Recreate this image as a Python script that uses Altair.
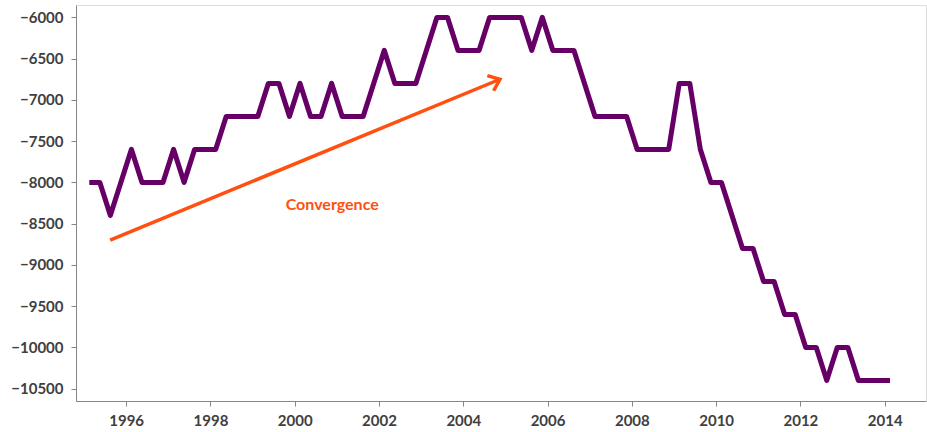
import altair as alt
import pandas as pd

# Quarterly series, first observation in Q1 1995
start_year = 1995.125
values = [
    -8000, -8000, -8400, -8000, -7600, -8000, -8000, -8000, -7600, -8000,
    -7600, -7600, -7600, -7200, -7200, -7200, -7200, -6800, -6800, -7200,
    -6800, -7200, -7200, -6800, -7200, -7200, -7200, -6800, -6400, -6800,
    -6800, -6800, -6400, -6000, -6000, -6400, -6400, -6400, -6000, -6000,
    -6000, -6000, -6400, -6000, -6400, -6400, -6400, -6800, -7200, -7200,
    -7200, -7200, -7600, -7600, -7600, -7600, -6800, -6800, -7600, -8000,
    -8000, -8400, -8800, -8800, -9200, -9200, -9600, -9600, -10000, -10000,
    -10400, -10000, -10000, -10400, -10400, -10400, -10400,
]
years = [start_year + i / 4 for i in range(len(values))]

x_ticks = [1996, 1998, 2000, 2002, 2004, 2006, 2008, 2010, 2012, 2014]
y_ticks = [-6000, -6500, -7000, -7500, -8000, -8500, -9000, -9500, -10000, -10500]

# Annotation arrow (data units)
arrow_x = [1995.62, 2004.87]
arrow_y = [-8700, -6750]
label_text = "Convergence"
label_x = 2000.89
label_y = -8274

PURPLE = "#660066"
ORANGE = "#FF5010"
FONT = "Lato"

df = pd.DataFrame({"year": years, "value": values})
arrow_df = pd.DataFrame({"x": [arrow_x[0]], "y": [arrow_y[0]], "x2": [arrow_x[1]], "y2": [arrow_y[1]]})
head_df = pd.DataFrame({"x": [arrow_x[1]], "y": [arrow_y[1]]})
label_df = pd.DataFrame({"x": [label_x], "y": [label_y], "t": [label_text]})

x_scale = alt.Scale(domain=[1994.81, 2014.98], nice=False, zero=False)
y_scale = alt.Scale(domain=[-10650, -5850], nice=False, zero=False)

x_axis = alt.Axis(values=x_ticks, format="d", title=None, grid=False,
                  domainColor="#868686", tickColor="#868686", tickSize=5,
                  labelFont=FONT, labelFontSize=15, labelFontWeight="bold",
                  labelColor="#404040", labelPadding=7)
y_axis = alt.Axis(values=y_ticks, format="d", title=None, grid=False,
                  domainColor="#868686", tickColor="#868686", tickSize=5,
                  labelFont=FONT, labelFontSize=15, labelFontWeight="bold",
                  labelColor="#404040", labelPadding=8)

line = alt.Chart(df).mark_line(color=PURPLE, strokeWidth=5, strokeJoin="round").encode(
    x=alt.X("year:Q", scale=x_scale, axis=x_axis),
    y=alt.Y("value:Q", scale=y_scale, axis=y_axis),
)

shaft = alt.Chart(arrow_df).mark_rule(color=ORANGE, strokeWidth=3.5).encode(
    x=alt.X("x:Q", scale=x_scale), y=alt.Y("y:Q", scale=y_scale),
    x2="x2:Q", y2="y2:Q",
)

head = alt.Chart(head_df).mark_point(
    shape="M -1 -0.8 L 0 0 L -1 0.8", filled=False, color=ORANGE,
    strokeWidth=3.5, size=420, angle=337.6, opacity=1,
).encode(x=alt.X("x:Q", scale=x_scale), y=alt.Y("y:Q", scale=y_scale))

label = alt.Chart(label_df).mark_text(
    color=ORANGE, font=FONT, fontSize=16, fontWeight="bold", align="center", baseline="middle",
).encode(x=alt.X("x:Q", scale=x_scale), y=alt.Y("y:Q", scale=y_scale), text="t:N")

chart = alt.layer(line, shaft, head, label).properties(
    width=850, height=396,
    autosize=alt.AutoSizeParams(type="none"),
    padding={"left": 76, "top": 5, "right": 1, "bottom": 31},
).configure_view(stroke=None).configure(background="white")

chart.save("out.html", embed_options={"renderer": "svg", "actions": False})
